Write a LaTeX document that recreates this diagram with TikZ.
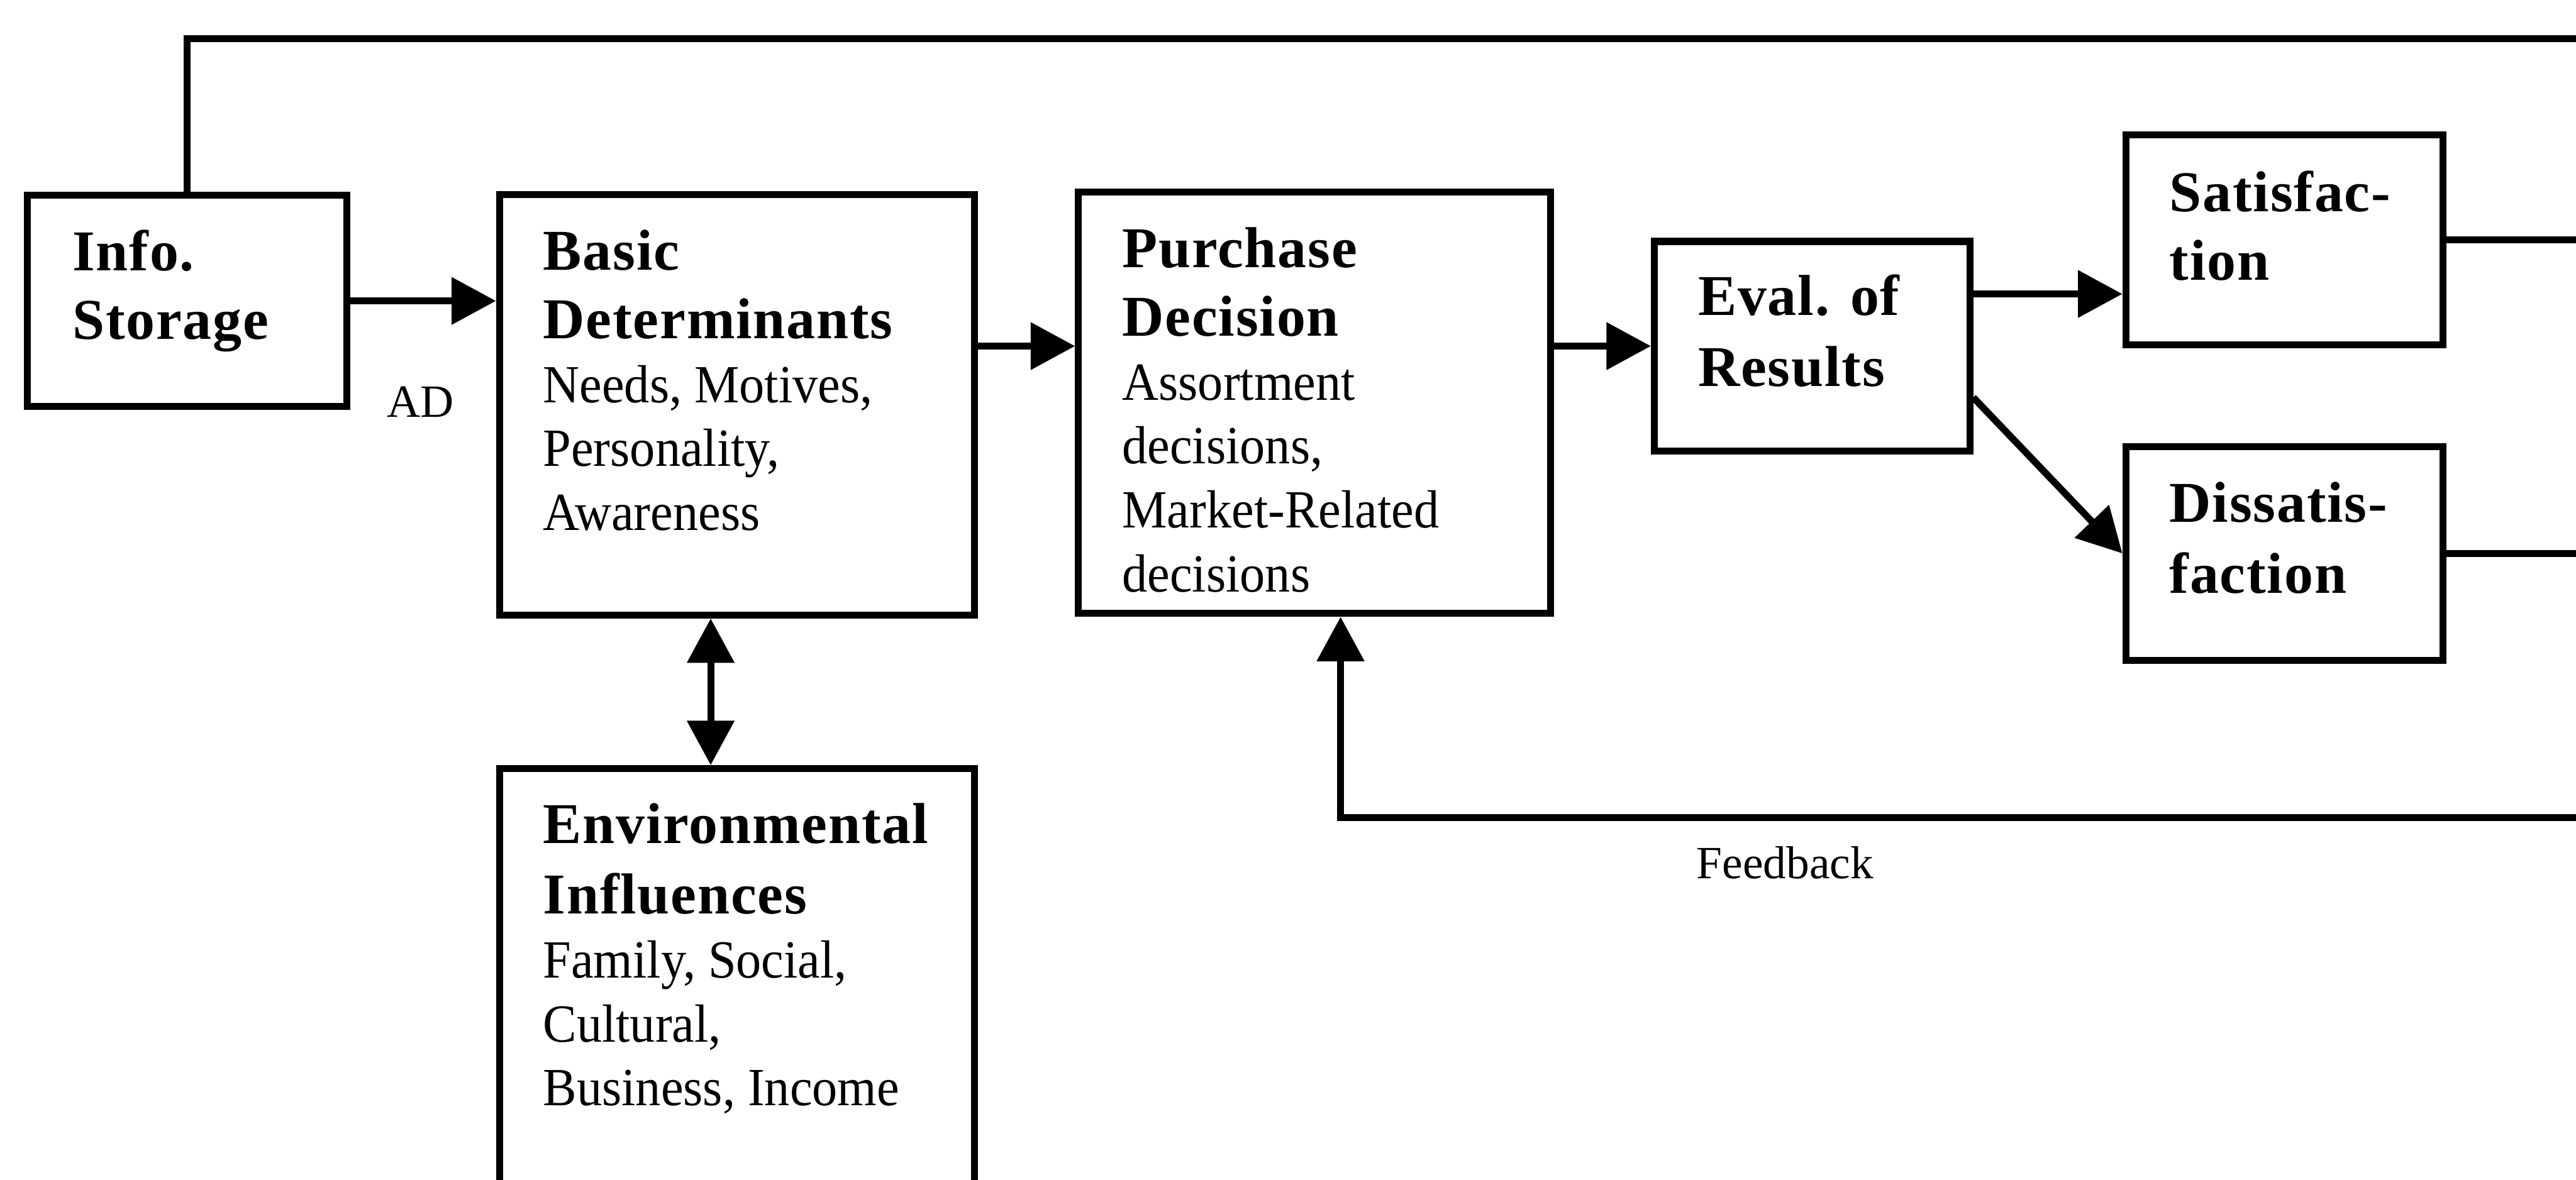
\documentclass[tikz,border=0pt]{standalone}
\usepackage{fontspec}
\setmainfont{Liberation Serif}
\newfontfamily\bodyserif[FakeStretch=0.94]{Liberation Serif}
\newfontfamily\headserif[LetterSpace=2]{Liberation Serif}
\usetikzlibrary{arrows.meta,fit}
\newcommand\hdtxt{\headserif\fontsize{10}{11.07}\selectfont\bfseries}
\newcommand\bdtxt{\bodyserif\fontsize{9.3}{11.07}\selectfont}
% fixed height for the first line, so every text block starts at the same depth
\newcommand\firstln{\rule{0pt}{7.2pt}}
\begin{document}
\begin{tikzpicture}[x=0.01cm,y=-0.01cm,
  box/.style={draw,line width=1.2pt,inner sep=0pt},
  lbl/.style={anchor=north west,align=left,inner sep=0pt,font=\bdtxt},
  note/.style={anchor=base west,inner sep=0pt,font=\fontsize{8}{9.6}\selectfont},
  conn/.style={line width=1.2pt},
  tip/.tip={Triangle[length=0.27cm,width=0.28cm]},
  arr/.style={conn,-tip},
  darr/.style={conn,tip-tip}]
\path[use as bounding box,clip] (0,0) rectangle (1568,718.5);

% boxes
\node[box,fit={(16.5,119) (211,247.5)}] (info) {};
\node[box,fit={(304,118.5) (593,374.5)}] (basic) {};
\node[box,fit={(304,468) (593,780)}] (env) {};
\node[box,fit={(656.5,117) (944,373.5)}] (purchase) {};
\node[box,fit={(1007,147) (1199,274.5)}] (eval) {};
\node[box,fit={(1294,82) (1487,210)}] (sat) {};
\node[box,fit={(1294,272) (1487,402)}] (dissat) {};

% box texts (first baseline about 47 units below the box top)
\node[lbl] (info-t) at ([shift={(29,22)}]info.north west)
  {{\firstln\hdtxt Info.}\\[0.8pt]{\hdtxt Storage}};
\node[lbl] (basic-t) at ([shift={(28,22)}]basic.north west)
  {{\firstln\hdtxt Basic}\\[0.8pt]{\hdtxt Determinants}\\Needs, Motives,\\Personality,\\Awareness};
\node[lbl] (env-t) at ([shift={(28,21.5)}]env.north west)
  {{\firstln\hdtxt Environmental}\\[1.2pt]{\hdtxt Influences}\\Family, Social,\\Cultural,\\Business, Income};
\node[lbl] (purchase-t) at ([shift={(28,22)}]purchase.north west)
  {{\firstln\hdtxt Purchase}\\[0.8pt]{\hdtxt Decision}\\Assortment\\decisions,\\Market-Related\\decisions};
\node[lbl] (eval-t) at ([shift={(28,21)}]eval.north west)
  {{\firstln\hdtxt Eval. of}\\[1.2pt]{\hdtxt Results}};
\node[lbl] (sat-t) at ([shift={(28,23)}]sat.north west)
  {{\firstln\hdtxt Satisfac-}\\[0.8pt]{\hdtxt tion}};
\node[lbl] (dissat-t) at ([shift={(28,22)}]dissat.north west)
  {{\firstln\hdtxt Dissatis-}\\[1.2pt]{\hdtxt faction}};

% free labels
\node[note] (ad) at (235,254) {AD};
\node[note] (fbl) at (1032,535) {Feedback};

% helper points
\coordinate (edgeR) at (1600,0);
\coordinate (topR) at (1600,23.5);
\coordinate (fb) at (816,498);
\coordinate (fbR) at (1600,498);
\coordinate (dx) at (432.6,0);
\coordinate (ys) at (0,179);
\coordinate (yd) at (0,242);

% connectors
\draw[conn] (info.north) |- (topR);
\draw[arr] (info.east) -- (info.east -| basic.west);
\draw[arr] (basic.east |- eval.west) -- (purchase.west |- eval.west);
\draw[arr] (purchase.east |- eval.west) -- (eval.west);
\draw[arr] (eval.east |- ys) -- (sat.west |- ys);
\draw[arr] (eval.east |- yd) -- (dissat.west);
\draw[conn] (sat.east) -- (sat.east -| edgeR);
\draw[conn] (dissat.east) -- (dissat.east -| edgeR);
\draw[arr] (fbR) -- (fb) -- (fb |- purchase.south);
\draw[darr] (dx |- basic.south) -- (dx |- env.north);
\end{tikzpicture}
\end{document}
